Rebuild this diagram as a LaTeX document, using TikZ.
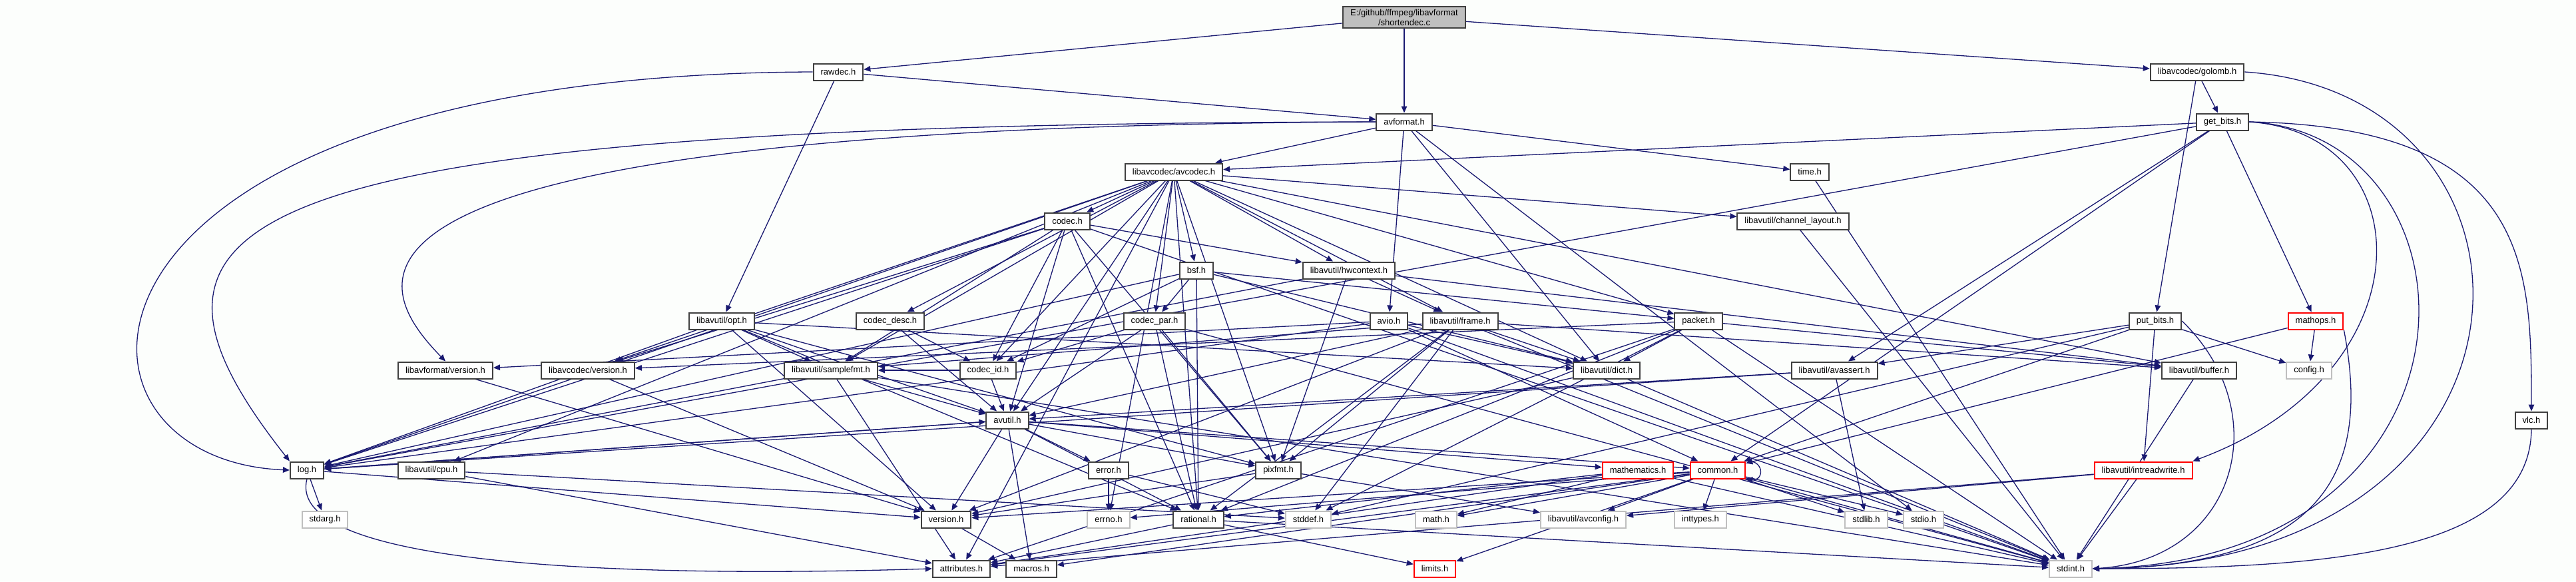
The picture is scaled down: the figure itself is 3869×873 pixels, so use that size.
\documentclass[tikz,border=0pt]{standalone}
\usepackage{fontspec}
\newfontfamily\dotfont{Liberation Sans}
\usetikzlibrary{arrows.meta,backgrounds}
\definecolor{edge}{RGB}{25,25,112}
\definecolor{paper}{RGB}{252,254,252}
\definecolor{frame}{RGB}{64,64,64}
\definecolor{sysgrey}{RGB}{191,191,191}

\begin{document}
\begin{tikzpicture}[x=1pt,y=-1pt,
    nb/.style={fill=white, line width=2pt, minimum height=25pt, inner xsep=11pt,
      inner ysep=0pt, font=\dotfont\fontsize{13}{15}\selectfont},
    hdr/.style={nb, draw=frame},
    syshdr/.style={nb, draw=sysgrey},
    cuthdr/.style={nb, draw=red},
    curhdr/.style={hdr, fill=sysgrey, inner ysep=4pt, align=center},
    dep/.style={draw=edge, line width=1.3pt, -{Triangle[length=10pt,width=8.5pt]}}]
  \useasboundingbox (0,0) rectangle (3869,873);

  % rank 0 - 3
  \node[curhdr] (src) at (2109,26) {E:/github/ffmpeg/libavformat\\/shortendec.c};
  \node[hdr] (rawdec) at (1259,108) {rawdec.h};
  \node[hdr] (golomb) at (3300,108) {libavcodec/golomb.h};
  \node[hdr] (avformat) at (2109,183) {avformat.h};
  \node[hdr] (getbits) at (3338,183) {get\_bits.h};
  \node[hdr] (avcodec) at (1763,258) {libavcodec/avcodec.h};
  \node[hdr] (time) at (2718,258) {time.h};
  % rank 4 - 6
  \node[hdr] (codec) at (1603,332) {codec.h};
  \node[hdr] (chlayout) at (2693,332) {libavutil/channel\_layout.h};
  \node[hdr] (bsf) at (1797,406) {bsf.h};
  \node[hdr] (hwctx) at (2026,406) {libavutil/hwcontext.h};
  \node[hdr] (opt) at (1084,482) {libavutil/opt.h};
  \node[hdr] (codecdesc) at (1337,482) {codec\_desc.h};
  \node[hdr] (codecpar) at (1734,482) {codec\_par.h};
  \node[hdr] (avio) at (2086,482) {avio.h};
  \node[hdr] (frame) at (2193,482) {libavutil/frame.h};
  \node[hdr] (packet) at (2551,482) {packet.h};
  \node[hdr] (putbits) at (3237,482) {put\_bits.h};
  \node[cuthdr] (mathops) at (3478,482) {mathops.h};
  % rank 7 - 8
  \node[hdr] (lavfver) at (669,556) {libavformat/version.h};
  \node[hdr] (lavcver) at (883,556) {libavcodec/version.h};
  \node[hdr] (samplefmt) at (1248,556) {libavutil/samplefmt.h};
  \node[hdr] (codecid) at (1484,556) {codec\_id.h};
  \node[hdr] (dict) at (2413,556) {libavutil/dict.h};
  \node[hdr] (avassert) at (2755,556) {libavutil/avassert.h};
  \node[hdr] (buffer) at (3303,556) {libavutil/buffer.h};
  \node[syshdr] (config) at (3468,556) {config.h};
  \node[hdr] (avutil) at (1513,631) {avutil.h};
  \node[hdr] (vlc) at (3802,631) {vlc.h};
  % rank 9
  \node[hdr] (log) at (461,706) {log.h};
  \node[hdr] (cpu) at (648,706) {libavutil/cpu.h};
  \node[hdr] (error) at (1665,706) {error.h};
  \node[hdr] (pixfmt) at (1920,706) {pixfmt.h};
  \node[cuthdr] (mathematics) at (2460,706) {mathematics.h};
  \node[cuthdr] (common) at (2580,706) {common.h};
  \node[cuthdr] (intrw) at (3219,706) {libavutil/intreadwrite.h};
  % rank 10 - 11
  \node[syshdr] (stdarg) at (488,780) {stdarg.h};
  \node[hdr] (version) at (1421,780) {version.h};
  \node[syshdr] (errno) at (1665,780) {errno.h};
  \node[hdr] (rational) at (1800,780) {rational.h};
  \node[syshdr] (stddef) at (1965,780) {stddef.h};
  \node[syshdr] (math) at (2157,780) {math.h};
  \node[syshdr] (avconfig) at (2378,780) {libavutil/avconfig.h};
  \node[syshdr] (inttypes) at (2554,780) {inttypes.h};
  \node[syshdr] (stdlib) at (2803,780) {stdlib.h};
  \node[syshdr] (stdio) at (2889,780) {stdio.h};
  \node[hdr] (attributes) at (1444,854) {attributes.h};
  \node[hdr] (macros) at (1549,854) {macros.h};
  \node[cuthdr] (limits) at (2155,854) {limits.h};
  \node[syshdr] (stdint) at (3110,854) {stdint.h};

  \begin{scope}[on background layer]
    \fill[paper] (0,0) rectangle (3869,873);
    % top of the graph
    \foreach \t in {rawdec,avformat,golomb} \draw[dep] (src) -- (\t);
    \foreach \t in {avformat,opt} \draw[dep] (rawdec) -- (\t);
    \draw[dep] (rawdec.west) .. controls (60,112) and (50,690) .. (log.west);
    \foreach \t in {avcodec,time,stdio,dict,avio} \draw[dep] (avformat) -- (\t);
    \draw[dep] (avformat.west) .. controls (300,186) and (150,330) .. (log.north west);
    \draw[dep] (avformat.west) .. controls (400,190) and (560,430) .. (lavfver.north);
    \foreach \t in {stdint,common,dict,log,lavfver} \draw[dep] (avio) -- (\t);
    \draw[dep] (lavfver) -- (version);
    % libavcodec
    \foreach \t in {errno,samplefmt,attributes,avutil,buffer,cpu,chlayout,dict,frame,hwctx,
        log,pixfmt,rational,bsf,codec,codecdesc,codecpar,codecid,packet,lavcver}
      \draw[dep] (avcodec) -- (\t);
    \foreach \t in {stdint,avutil,hwctx,log,pixfmt,rational,samplefmt,codecid,lavcver}
      \draw[dep] (codec) -- (\t);
    \foreach \t in {dict,log,rational,codecid,codecpar,packet} \draw[dep] (bsf) -- (\t);
    \foreach \t in {avutil,codecid} \draw[dep] (codecdesc) -- (\t);
    \foreach \t in {stdint,avutil,rational,pixfmt,codecid} \draw[dep] (codecpar) -- (\t);
    \foreach \t in {avutil,samplefmt} \draw[dep] (codecid) -- (\t);
    \foreach \t in {stddef,stdint,attributes,buffer,dict,rational,lavcver} \draw[dep] (packet) -- (\t);
    \draw[dep] (lavcver) -- (version);
    % golomb and bit readers
    \foreach \t in {getbits,putbits} \draw[dep] (golomb) -- (\t);
    \draw[dep] (golomb.east) .. controls (3860,140) and (3860,850) .. (stdint.east);
    \foreach \t in {avcodec,log,avassert,common,mathops} \draw[dep] (getbits) -- (\t);
    \draw[dep] (getbits.east) .. controls (3800,190) and (3802,400) .. (vlc.north);
    \draw[dep] (getbits.east) .. controls (3640,200) and (3650,560) .. (intrw.north east);
    \draw[dep] (getbits.east) .. controls (3740,200) and (3760,840) .. (stdint.east);
    \foreach \t in {stddef,config,intrw,avassert,common} \draw[dep] (putbits) -- (\t);
    \draw[dep] (putbits.east) .. controls (3420,620) and (3360,840) .. (stdint.east);
    \foreach \t in {config,common} \draw[dep] (mathops) -- (\t);
    \draw[dep] (mathops.south east) .. controls (3560,700) and (3500,850) .. (stdint.east);
    \draw[dep] (vlc.south) .. controls (3800,830) and (3500,854) .. (stdint.east);
    \foreach \t in {stdint,attributes,avconfig} \draw[dep] (intrw) -- (\t);
    \foreach \t in {stdlib,avutil,log} \draw[dep] (avassert) -- (\t);
    % libavutil
    \foreach \t in {rational,avutil,dict,log,pixfmt,samplefmt,version} \draw[dep] (opt) -- (\t);
    \foreach \t in {stddef,stdint,avutil,buffer,dict,rational,samplefmt,pixfmt,version}
      \draw[dep] (frame) -- (\t);
    \foreach \t in {buffer,frame,log,pixfmt} \draw[dep] (hwctx) -- (\t);
    \foreach \t in {stdint,avutil,attributes} \draw[dep] (samplefmt) -- (\t);
    \foreach \t in {stdint,version} \draw[dep] (dict) -- (\t);
    \foreach \t in {buffer,chlayout,time} \draw[dep] (\t) -- (stdint);
    \foreach \t in {common,error,rational,version,macros,mathematics,log,pixfmt}
      \draw[dep] (avutil) -- (\t);
    \foreach \t in {stdarg,avutil,version} \draw[dep] (log) -- (\t);
    \draw[dep] (log.south) .. controls (420,880) and (1200,860) .. (attributes.west);
    \foreach \t in {stddef,attributes} \draw[dep] (cpu) -- (\t);
    \foreach \t in {errno,stddef} \draw[dep] (error) -- (\t);
    \foreach \t in {avconfig,version} \draw[dep] (pixfmt) -- (\t);
    \foreach \t in {stdint,math,attributes,rational} \draw[dep] (mathematics) -- (\t);
    \foreach \t in {errno,inttypes,limits,math,stdint,stdio,stdlib,attributes,macros,version,avconfig}
      \draw[dep] (common) -- (\t);
    \draw[dep] (common.north east) .. controls (2650,690) and (2650,722) .. (common.south east);
    \foreach \t in {stdint,limits,attributes} \draw[dep] (rational) -- (\t);
    \draw[dep] (version) -- (macros);
  \end{scope}
\end{tikzpicture}
\end{document}
